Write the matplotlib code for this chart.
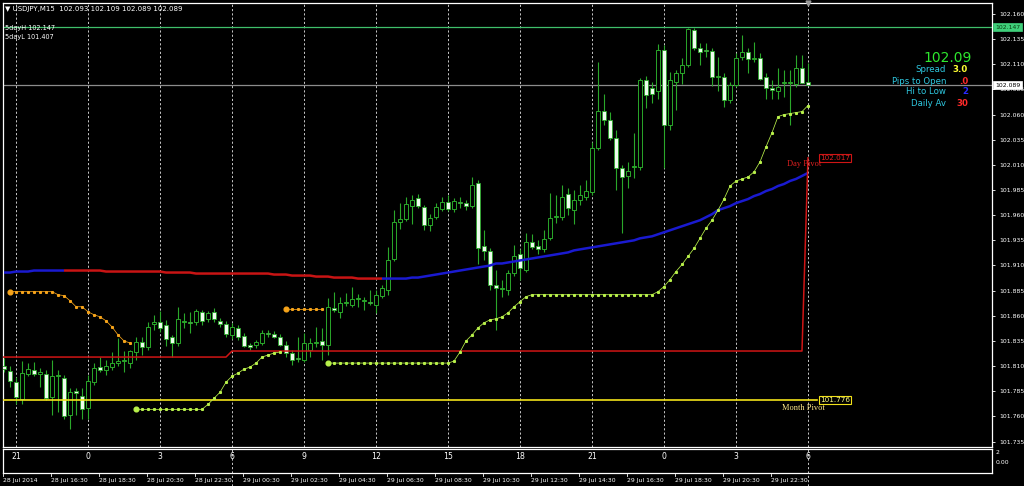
import matplotlib
matplotlib.use("Agg")
import matplotlib.pyplot as plt
import matplotlib.transforms as mtransforms
from matplotlib.lines import Line2D
import numpy as np

# ---------------- data ----------------
symbol = "USDJPY,M15"
header_prices = ["102.093", "102.109", "102.089", "102.089"]
five_day_high = 102.147
five_day_low = 101.407
last_price = 102.089

open_ = [101.810, 101.805, 101.794, 101.777, 101.802, 101.806, 101.802, 101.802, 101.779, 101.800,
         101.798, 101.761, 101.785, 101.780, 101.768, 101.794, 101.809, 101.806, 101.809, 101.813,
         101.815, 101.813, 101.824, 101.834, 101.829, 101.852, 101.854, 101.851, 101.839, 101.833,
         101.854, 101.854, 101.854, 101.864, 101.857, 101.864, 101.855, 101.852, 101.841, 101.848,
         101.840, 101.831, 101.831, 101.833, 101.843, 101.842, 101.839, 101.831, 101.823, 101.818,
         101.816, 101.826, 101.833, 101.835, 101.831, 101.868, 101.864, 101.873, 101.871, 101.877,
         101.875, 101.874, 101.871, 101.880, 101.886, 101.916, 101.953, 101.956, 101.969, 101.977,
         101.968, 101.950, 101.958, 101.966, 101.973, 101.966, 101.973, 101.972, 101.969, 101.992,
         101.929, 101.924, 101.891, 101.887, 101.886, 101.903, 101.921, 101.906, 101.933, 101.929,
         101.926, 101.937, 101.958, 101.958, 101.981, 101.965, 101.975, 101.978, 101.983, 102.027,
         102.064, 102.055, 102.037, 102.007, 101.999, 102.008, 102.008, 102.094, 102.086, 102.083,
         102.124, 102.050, 102.092, 102.101, 102.109, 102.144, 102.126, 102.124, 102.123, 102.097,
         102.097, 102.074, 102.089, 102.117, 102.122, 102.115, 102.116, 102.097, 102.086, 102.083,
         102.091, 102.091, 102.090, 102.106, 102.092]
high = [101.818, 101.810, 101.799, 101.815, 101.813, 101.814, 101.808, 101.806, 101.816, 101.806,
        101.801, 101.788, 101.788, 101.788, 101.801, 101.813, 101.819, 101.816, 101.824, 101.838,
        101.825, 101.826, 101.839, 101.839, 101.854, 101.861, 101.865, 101.856, 101.841, 101.869,
        101.863, 101.864, 101.867, 101.866, 101.865, 101.868, 101.858, 101.855, 101.853, 101.851,
        101.843, 101.833, 101.836, 101.846, 101.846, 101.845, 101.842, 101.835, 101.826, 101.839,
        101.843, 101.838, 101.849, 101.848, 101.878, 101.884, 101.879, 101.883, 101.889, 101.882,
        101.879, 101.886, 101.886, 101.891, 101.928, 101.965, 101.972, 101.978, 101.980, 101.981,
        101.970, 101.961, 101.972, 101.978, 101.980, 101.977, 101.978, 101.975, 101.998, 101.995,
        101.945, 101.927, 101.906, 101.896, 101.906, 101.930, 101.926, 101.942, 101.941, 101.935,
        101.945, 101.982, 101.980, 101.990, 101.987, 101.985, 101.990, 101.995, 102.033, 102.112,
        102.080, 102.063, 102.045, 102.010, 102.013, 102.042, 102.096, 102.098, 102.092, 102.130,
        102.129, 102.102, 102.104, 102.116, 102.146, 102.146, 102.131, 102.131, 102.126, 102.117,
        102.101, 102.092, 102.121, 102.139, 102.126, 102.132, 102.121, 102.101, 102.094, 102.106,
        102.104, 102.104, 102.119, 102.119, 102.111]
low = [101.804, 101.789, 101.772, 101.772, 101.800, 101.800, 101.789, 101.776, 101.761, 101.764,
       101.757, 101.747, 101.761, 101.757, 101.757, 101.791, 101.804, 101.801, 101.806, 101.810,
       101.804, 101.808, 101.816, 101.821, 101.826, 101.846, 101.844, 101.830, 101.819, 101.830,
       101.848, 101.843, 101.851, 101.851, 101.854, 101.854, 101.849, 101.839, 101.837, 101.836,
       101.829, 101.826, 101.828, 101.831, 101.839, 101.838, 101.830, 101.819, 101.811, 101.814,
       101.814, 101.819, 101.829, 101.816, 101.821, 101.864, 101.858, 101.870, 101.869, 101.869,
       101.866, 101.871, 101.863, 101.878, 101.881, 101.914, 101.946, 101.954, 101.951, 101.967,
       101.945, 101.944, 101.956, 101.964, 101.964, 101.963, 101.967, 101.965, 101.967, 101.911,
       101.915, 101.886, 101.846, 101.879, 101.881, 101.900, 101.896, 101.904, 101.926, 101.921,
       101.923, 101.935, 101.952, 101.955, 101.960, 101.951, 101.970, 101.975, 101.980, 102.025,
       102.050, 102.035, 101.985, 101.942, 101.987, 101.997, 102.005, 102.067, 102.072, 102.075,
       102.007, 102.045, 102.065, 102.090, 102.107, 102.124, 102.109, 102.117, 102.088, 102.083,
       102.068, 102.072, 102.087, 102.114, 102.101, 102.112, 102.094, 102.075, 102.075, 102.075,
       102.077, 102.050, 102.087, 102.091, 102.089]
close = [101.807, 101.795, 101.779, 101.803, 101.807, 101.802, 101.804, 101.778, 101.800, 101.801,
         101.760, 101.784, 101.783, 101.767, 101.795, 101.808, 101.806, 101.810, 101.813, 101.815,
         101.816, 101.825, 101.834, 101.829, 101.849, 101.854, 101.848, 101.837, 101.833, 101.857,
         101.855, 101.853, 101.865, 101.855, 101.863, 101.857, 101.852, 101.842, 101.849, 101.839,
         101.830, 101.829, 101.834, 101.843, 101.842, 101.839, 101.831, 101.823, 101.816, 101.817,
         101.833, 101.833, 101.834, 101.831, 101.869, 101.866, 101.873, 101.874, 101.877, 101.878,
         101.876, 101.873, 101.881, 101.888, 101.915, 101.953, 101.956, 101.971, 101.975, 101.969,
         101.950, 101.957, 101.968, 101.973, 101.966, 101.974, 101.972, 101.969, 101.990, 101.927,
         101.924, 101.891, 101.888, 101.888, 101.903, 101.919, 101.908, 101.933, 101.928, 101.926,
         101.936, 101.957, 101.959, 101.978, 101.967, 101.975, 101.980, 101.984, 102.027, 102.064,
         102.055, 102.037, 102.007, 101.998, 102.004, 102.009, 102.094, 102.079, 102.080, 102.124,
         102.050, 102.094, 102.101, 102.109, 102.145, 102.126, 102.122, 102.123, 102.097, 102.098,
         102.074, 102.089, 102.116, 102.122, 102.115, 102.116, 102.095, 102.086, 102.084, 102.087,
         102.092, 102.092, 102.106, 102.091, 102.089]

moving_avg = [101.903, 101.903, 101.904, 101.904, 101.904, 101.905, 101.905, 101.905, 101.905, 101.905,
              101.905, 101.905, 101.905, 101.905, 101.905, 101.905, 101.905, 101.904, 101.904, 101.904,
              101.904, 101.904, 101.904, 101.904, 101.904, 101.904, 101.904, 101.903, 101.903, 101.903,
              101.903, 101.903, 101.902, 101.902, 101.902, 101.902, 101.902, 101.902, 101.902, 101.902,
              101.902, 101.902, 101.902, 101.902, 101.902, 101.901, 101.901, 101.901, 101.900, 101.900,
              101.900, 101.900, 101.899, 101.899, 101.899, 101.898, 101.898, 101.898, 101.898, 101.897,
              101.897, 101.897, 101.897, 101.897, 101.897, 101.897, 101.897, 101.897, 101.898, 101.898,
              101.899, 101.900, 101.901, 101.902, 101.903, 101.904, 101.905, 101.906, 101.907, 101.908,
              101.909, 101.910, 101.912, 101.912, 101.913, 101.914, 101.915, 101.916, 101.917, 101.918,
              101.919, 101.920, 101.921, 101.922, 101.923, 101.925, 101.926, 101.927, 101.928, 101.929,
              101.930, 101.931, 101.932, 101.933, 101.934, 101.935, 101.937, 101.938, 101.939, 101.941,
              101.943, 101.945, 101.947, 101.949, 101.951, 101.953, 101.955, 101.958, 101.961, 101.965,
              101.967, 101.969, 101.972, 101.974, 101.976, 101.979, 101.981, 101.984, 101.986, 101.989,
              101.991, 101.994, 101.996, 101.999, 102.002]
ma_red_from, ma_red_to = 10, 63   # bar range where the MA is drawn red (falling)

day_pivot_levels = [101.819, 101.825, 102.017]
day_pivot_starts = [0, 38, 134]
month_pivot = 101.776

upper_stop_1_start = 1
upper_stop_1 = [101.884, 101.884, 101.884, 101.884, 101.884, 101.884, 101.884, 101.884, 101.881, 101.880,
                101.875, 101.869, 101.869, 101.864, 101.861, 101.859, 101.855, 101.849, 101.841, 101.835,
                101.833]
upper_stop_2_start = 47
upper_stop_2 = [101.867, 101.867, 101.867, 101.867, 101.867, 101.867, 101.867]

lower_stop_1_start = 22
lower_stop_1 = [101.767, 101.767, 101.767, 101.767, 101.767, 101.767, 101.767, 101.767, 101.767, 101.767,
                101.767, 101.767, 101.772, 101.778, 101.784, 101.794, 101.800, 101.803, 101.807, 101.809,
                101.813, 101.819, 101.821, 101.823, 101.824]
lower_stop_2_start = 54
lower_stop_2 = [101.813, 101.813, 101.813, 101.813, 101.813, 101.813, 101.813, 101.813, 101.813, 101.813,
                101.813, 101.813, 101.813, 101.813, 101.813, 101.813, 101.813, 101.813, 101.813, 101.813,
                101.813, 101.815, 101.824, 101.835, 101.841, 101.848, 101.853, 101.856, 101.857, 101.859,
                101.863, 101.869, 101.874, 101.879, 101.881, 101.881, 101.881, 101.881, 101.881, 101.881,
                101.881, 101.881, 101.881, 101.881, 101.881, 101.881, 101.881, 101.881, 101.881, 101.881,
                101.881, 101.881, 101.881, 101.881, 101.881, 101.884, 101.889, 101.896, 101.904, 101.911,
                101.919, 101.927, 101.937, 101.947, 101.955, 101.965, 101.976, 101.989, 101.994, 101.996,
                101.998, 102.003, 102.013, 102.028, 102.042, 102.058, 102.060, 102.061, 102.062, 102.063,
                102.069]

price_ticks = [102.160, 102.135, 102.110, 102.085, 102.060, 102.035, 102.010, 101.985, 101.960,
               101.935, 101.910, 101.885, 101.860, 101.835, 101.810, 101.785, 101.760, 101.735]

hour_labels = ["21", "0", "3", "6", "9", "12", "15", "18", "21", "0", "3", "6"]
hour_first_bar = 2
bars_per_hour_label = 12
separator_bars = [38, 134]

time_labels = ["28 Jul 2014", "28 Jul 16:30", "28 Jul 18:30", "28 Jul 20:30", "28 Jul 22:30",
               "29 Jul 00:30", "29 Jul 02:30", "29 Jul 04:30", "29 Jul 06:30", "29 Jul 08:30",
               "29 Jul 10:30", "29 Jul 12:30", "29 Jul 14:30", "29 Jul 16:30", "29 Jul 18:30",
               "29 Jul 20:30", "29 Jul 22:30"]
bars_per_time_label = 8

info_big = "102.09"
info_rows = [("Spread", "3.0", "#ffff33"), ("Pips to Open", ".0", "#ff2a2a"),
             ("Hi to Low", "2", "#2a2aff"), ("Daily Av", "30", "#ff2a2a")]

# ---------------- figure ----------------
W, H = 1024, 486
fig = plt.figure(figsize=(W / 100, H / 100), dpi=100, facecolor="black")

def fx(px):
    return px / W

def fy(py):
    return 1 - py / H

ax = fig.add_axes([fx(3), fy(447), fx(992) - fx(3), fy(3) - fy(447)], facecolor="black")
sub = fig.add_axes([fx(3), fy(473), fx(992) - fx(3), fy(449) - fy(473)], facecolor="black")

n = len(close)
idx = np.arange(n)
xmin, xmax = -0.17, 164.67
ymin, ymax = 101.7296, 102.1709
ax.set_xlim(xmin, xmax)
ax.set_ylim(ymin, ymax)
sub.set_xlim(xmin, xmax)
sub.set_ylim(0, 1)

for a in (ax, sub):
    for s in a.spines.values():
        s.set_color("white")
        s.set_linewidth(0.9)
    a.set_xticks([])
sub.set_yticks([])

ax.yaxis.tick_right()
ax.set_yticks(price_ticks)
ax.set_yticklabels([f"{t:.3f}" for t in price_ticks])
ax.tick_params(axis="y", colors="white", labelcolor="white", labelsize=4.4, length=2.5,
               width=0.6, pad=2.5, direction="out")

# hour grid lines
hour_bars = [hour_first_bar + k * bars_per_hour_label for k in range(len(hour_labels))]
for b in hour_bars:
    ax.axvline(b, color="#c8c8c8", lw=0.7, ls=(0, (2.2, 2.2)), zorder=1)

# horizontal lines: 5-day high and current price
ax.axhline(five_day_high, color="#3fbf6a", lw=0.9, zorder=2)
ax.axhline(last_price, color="#8c8c8c", lw=0.9, zorder=2)

# candles
body_w = 0.62
green = "#2aa82a"
for i in range(n):
    o, h_, l_, c = open_[i], high[i], low[i], close[i]
    ax.vlines(i, l_, h_, color=green, lw=0.8, zorder=3)
    top, bot = max(o, c), min(o, c)
    if c > o:
        ax.add_patch(plt.Rectangle((i - body_w / 2, bot), body_w, max(top - bot, 0.0004),
                                   facecolor="black", edgecolor=green, lw=0.7, zorder=4))
    elif c < o:
        ax.add_patch(plt.Rectangle((i - body_w / 2, bot), body_w, max(top - bot, 0.0004),
                                   facecolor="#eefcee", edgecolor=green, lw=0.6, zorder=4))
    else:
        ax.hlines(c, i - body_w / 2, i + body_w / 2, color=green, lw=0.8, zorder=4)

# moving average (blue rising / red falling)
ma = np.array(moving_avg)
ax.plot(idx[:ma_red_from + 1], ma[:ma_red_from + 1], color="#1a1ad0", lw=1.8, zorder=5,
        solid_capstyle="butt")
ax.plot(idx[ma_red_from:ma_red_to + 1], ma[ma_red_from:ma_red_to + 1], color="#c81414", lw=1.8,
        zorder=5, solid_capstyle="butt")
ax.plot(idx[ma_red_to:], ma[ma_red_to:], color="#1a1ad0", lw=1.8, zorder=5, solid_capstyle="butt")

# day pivot
dp = np.zeros(n)
for k, st in enumerate(day_pivot_starts):
    dp[st:] = day_pivot_levels[k]
ax.plot(np.r_[-0.5, idx], np.r_[dp[0], dp], color="#d01515", lw=1.1, zorder=5)

# month pivot
ax.plot([xmin, 135.5], [month_pivot, month_pivot], color="#f2e21a", lw=1.2, zorder=5)

# trailing stops
def stop(start, vals, color):
    xs = np.arange(start, start + len(vals))
    ax.plot(xs, vals, color=color, lw=0.55, zorder=6)
    ax.plot(xs[1:], vals[1:], ls="none", marker="s", ms=1.2, color=color, zorder=6)
    ax.plot(xs[:1], vals[:1], ls="none", marker="o", ms=3.4, color=color, zorder=6)

stop(upper_stop_1_start, upper_stop_1, "#f5a31a")
stop(upper_stop_2_start, upper_stop_2, "#f5a31a")
stop(lower_stop_1_start, lower_stop_1, "#b8f04a")
stop(lower_stop_2_start, lower_stop_2, "#b8f04a")

# top marker
ax.plot([n - 1], [ymax], marker="v", color="#9a9a9a", ms=3.5, clip_on=False, zorder=7)

# period separators through sub window and time axis
for b in separator_bars:
    sub.axvline(b, color="#c8c8c8", lw=0.7, ls=(0, (2.2, 2.2)))
    trans = mtransforms.blended_transform_factory(ax.transData, fig.transFigure)
    fig.add_artist(Line2D([b, b], [fy(486), fy(473)], transform=trans, color="#c8c8c8",
                          lw=0.7, ls=(0, (2.2, 2.2))))

# hour labels in sub-window
for b, lab in zip(hour_bars, hour_labels):
    sub.text(b, 0.7, lab, color="white", fontsize=5.6, ha="center", va="center")

# time labels
ttrans = mtransforms.blended_transform_factory(ax.transData, fig.transFigure)
for k, lab in enumerate(time_labels):
    xb = xmin + k * bars_per_time_label
    fig.text(xb, fy(480), lab, transform=ttrans, color="white", fontsize=4.4, ha="left",
             va="center")
    fig.add_artist(Line2D([xb, xb], [fy(476), fy(474)], transform=ttrans, color="white", lw=0.6))

# right-axis boxed labels
rtrans = mtransforms.blended_transform_factory(fig.transFigure, ax.transData)
ax.text(fx(995), five_day_high, f"{five_day_high:.3f}", transform=rtrans, fontsize=4.4,
        color="#0b3d12", ha="left", va="center", zorder=10, clip_on=False,
        bbox=dict(boxstyle="square,pad=0.25", fc="#3fcf7a", ec="#3fcf7a", lw=0.5))
ax.text(fx(995), last_price, f"{last_price:.3f}", transform=rtrans, fontsize=4.4,
        color="black", ha="left", va="center", zorder=10, clip_on=False,
        bbox=dict(boxstyle="square,pad=0.25", fc="white", ec="white", lw=0.5))

# sub window scale labels
fig.text(fx(996), fy(452), "2", color="white", fontsize=4.4, ha="left", va="center")
fig.text(fx(996), fy(462), "0.00", color="white", fontsize=4.4, ha="left", va="center")

# pivot labels
ax.text(136.0, day_pivot_levels[-1], f"{day_pivot_levels[-1]:.3f}", fontsize=5.2, color="#e02020",
        ha="left", va="center", zorder=9,
        bbox=dict(boxstyle="square,pad=0.12", fc="black", ec="#d01515", lw=0.8))
ax.text(130.5, 102.011, "Day Pivot", fontsize=6, color="#e02020", ha="left", va="center",
        family="Liberation Serif", zorder=9)
ax.text(136.0, month_pivot, f"{month_pivot:.3f}", fontsize=5.2, color="#ffff80",
        ha="left", va="center", zorder=9,
        bbox=dict(boxstyle="square,pad=0.12", fc="black", ec="#f2e21a", lw=0.8))
ax.text(129.7, month_pivot - 0.0075, "Month Pivot", fontsize=6, color="#ffe98a", ha="left",
        va="center", family="Liberation Serif", zorder=9)

# header
fig.text(fx(5), fy(9), "\u25bc " + symbol + "  " + " ".join(header_prices), color="white",
         fontsize=5.0, ha="left", va="center")
fig.text(fx(5), fy(28), f"5dayH {five_day_high:.3f}", color="white", fontsize=4.7, ha="left",
         va="center")
fig.text(fx(5), fy(37), f"5dayL {five_day_low:.3f}", color="white", fontsize=4.7, ha="left",
         va="center")

# info panel
fig.text(fx(972), fy(58), info_big, color="#2ee82e", fontsize=10, ha="right", va="center")
for k, (name, val, col) in enumerate(info_rows):
    yy = fy(70 + 11 * k)
    fig.text(fx(946), yy, name, color="#2ec8e0", fontsize=6.2, ha="right", va="center")
    fig.text(fx(968), yy, val, color=col, fontsize=6.2, ha="right", va="center",
             fontweight="bold")

fig.savefig("out.png", dpi=100, facecolor="black")
